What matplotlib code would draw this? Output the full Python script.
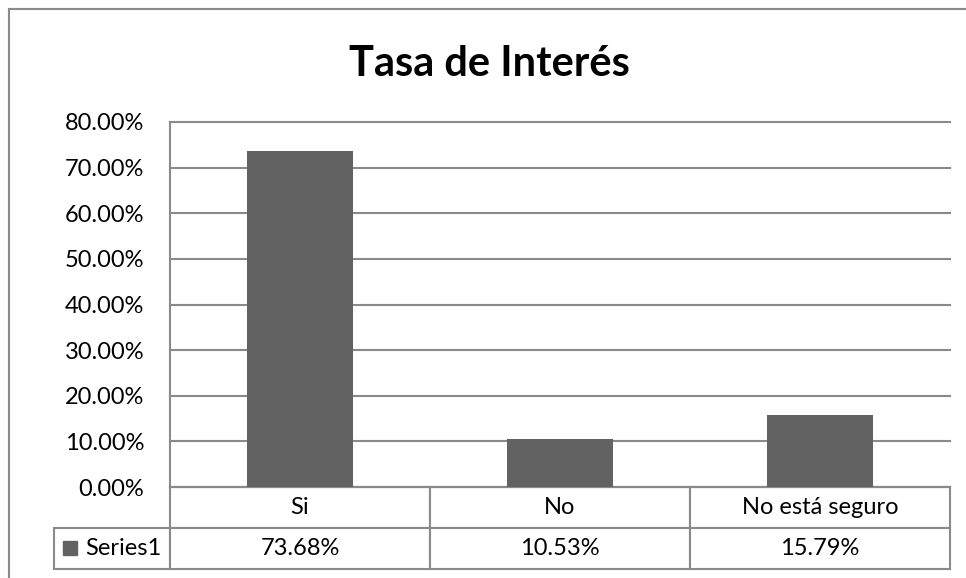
import matplotlib
matplotlib.use("Agg")
import matplotlib.pyplot as plt
from matplotlib.lines import Line2D

plt.rcParams['font.family'] = ['Lato', 'DejaVu Sans']

title = "Tasa de Interés"
categories = ["Si", "No", "No está seguro"]
series_name = "Series1"
values = [73.68, 10.53, 15.79]
yticks = [0, 10, 20, 30, 40, 50, 60, 70, 80]

W, H = 966, 578
BAR = '#626262'
GRID = '#8a8a8a'
FS = 17

fig = plt.figure(figsize=(W / 100, H / 100), dpi=100)
fig.patch.set_facecolor('white')

# plot area in pixels: x 170..950, y 122..487
L, R, T, B = 170, 950, 122, 487
ax = fig.add_axes([L / W, 1 - B / H, (R - L) / W, (B - T) / H])

x = list(range(len(categories)))
ax.bar(x, values, width=0.405, color=BAR, zorder=3)
ax.set_xlim(-0.5, len(categories) - 0.5)
ax.set_ylim(0, 80)
ax.set_yticks(yticks)
ax.set_yticklabels([f"{v:.2f}%" for v in yticks], fontsize=FS, color='black')
ax.set_xticks([])
ax.tick_params(axis='y', length=0, pad=18.5)
ax.grid(axis='y', color=GRID, linewidth=1.5, zorder=1)
for gl in ax.get_ygridlines():
    gl.set_clip_on(False)
for s in ['top', 'right']:
    ax.spines[s].set_visible(False)
for s in ['left', 'bottom']:
    ax.spines[s].set_color(GRID)
    ax.spines[s].set_linewidth(1.5)

# data table beneath the axis
pw = R - L
leg_w = (L - 54) / pw
row_h = 82 / (B - T)
cell_text = [[""] + categories,
             [series_name] + [f"{v:.2f}%" for v in values]]
tbl = ax.table(cellText=cell_text,
               colWidths=[leg_w] + [1 / len(categories)] * len(categories),
               cellLoc='center',
               bbox=[-leg_w, -row_h, 1 + leg_w, row_h])
tbl.auto_set_font_size(False)
tbl.set_fontsize(FS)
for (r, c), cell in tbl.get_celld().items():
    cell.set_edgecolor(GRID)
    cell.set_linewidth(1.5)
    cell.get_text().set_fontsize(FS)
    cell.get_text().set_fontfamily(['Lato', 'DejaVu Sans'])
    if r == 0 and c == 0:
        cell.visible_edges = ''
    if r == 1 and c == 0:
        cell.get_text().set_horizontalalignment('left')
        cell.PAD = 0.27

# legend key square
ax.plot([(70 - L) / pw], [-(548 - B) / (B - T)], marker='s', markersize=10.5,
        color=BAR, transform=ax.transAxes, clip_on=False, linestyle='none')

# title
fig.text(489 / W, 1 - 76 / H, title, ha='center', va='baseline',
         fontsize=30, fontweight='bold', color='black')

# outer chart border (left and top visible)
fig.add_artist(Line2D([8.5 / W, 8.5 / W], [0, 1 - 8.5 / H], color=GRID, lw=1.5))
fig.add_artist(Line2D([8.5 / W, 1], [1 - 8.5 / H, 1 - 8.5 / H], color=GRID, lw=1.5))

fig.savefig('out.png', dpi=100, facecolor='white')
